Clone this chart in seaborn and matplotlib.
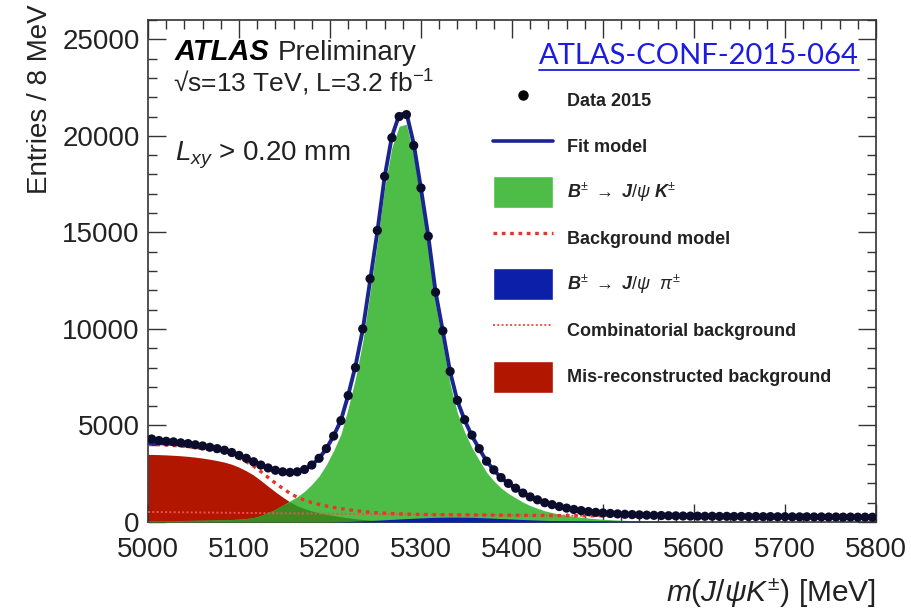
import numpy as np
import pandas as pd
import matplotlib
matplotlib.use("Agg")
import matplotlib.pyplot as plt
from matplotlib.lines import Line2D
from matplotlib.patches import Patch
from matplotlib.ticker import MultipleLocator
import seaborn as sns

# ---- binning: 8 MeV bins between 5000 and 5800 MeV ----
bin_width = 8
mass_lo, mass_hi = 5000, 5800
centers = np.arange(mass_lo + bin_width / 2, mass_hi, bin_width)

# ---- measured entries per bin (Data 2015) ----
data_2015 = [
    4300, 4220, 4180, 4150, 4100, 4060, 4000, 3940, 3870, 3800,
    3720, 3600, 3450, 3300, 3120, 2950, 2800, 2680, 2600, 2570,
    2600, 2720, 2950, 3300, 3800, 4450, 5250, 6550, 8000, 10000,
    12600, 15100, 17900, 19900, 21000, 21100, 19500, 17300, 14800, 11900,
    9900, 7800, 6300, 5300, 4500, 3800, 3150, 2700, 2300, 2000,
    1750, 1500, 1300, 1150, 1000, 900, 800, 720, 650, 590,
    540, 500, 470, 445, 420, 400, 385, 370, 355, 345,
    335, 325, 318, 310, 305, 302, 296, 298, 290, 293,
    285, 288, 280, 284, 276, 279, 271, 274, 268, 266,
    270, 261, 264, 257, 260, 253, 256, 249, 252, 247,
]

# ---- fit components evaluated at the bin centres ----
sig_jpsi_k = [
    70, 72, 74, 76, 79, 82, 86, 91, 97, 105,
    116, 130, 150, 180, 225, 340, 490, 660, 880, 1090,
    1310, 1590, 1950, 2380, 2970, 3700, 4550, 5900, 7450, 9350,
    11900, 14450, 17300, 19400, 20500, 20600, 19000, 16650, 14200, 11300,
    9250, 7150, 5650, 4650, 3850, 3200, 2580, 2130, 1760, 1480,
    1250, 1030, 850, 710, 580, 490, 410, 345, 290, 245,
    205, 172, 145, 122, 102, 86, 72, 60, 50, 42,
    35, 30, 25, 21, 18, 15, 13, 11, 9, 8,
    7, 6, 5, 4, 4, 3, 3, 3, 2, 2,
    2, 2, 1, 1, 1, 1, 1, 1, 1, 1,
]

mis_reco = [
    3500, 3490, 3475, 3455, 3430, 3400, 3360, 3310, 3250, 3180,
    3100, 2990, 2840, 2650, 2430, 2150, 1850, 1560, 1290, 1040,
    840, 690, 570, 480, 400, 330, 270, 220, 170, 130,
    95, 70, 50, 35, 22, 14, 8, 4, 2, 0,
] + [0] * 60

combinatorial = [
    520, 516, 512, 508, 504, 500, 496, 492, 488, 484,
    480, 476, 472, 469, 465, 461, 458, 454, 450, 447,
    443, 440, 436, 433, 429, 426, 423, 419, 416, 413,
    409, 406, 403, 400, 397, 393, 390, 387, 384, 381,
    378, 375, 372, 369, 366, 363, 360, 357, 354, 352,
    349, 346, 343, 341, 338, 335, 333, 330, 327, 325,
    322, 320, 317, 315, 312, 310, 307, 305, 302, 300,
    297, 295, 293, 290, 288, 286, 283, 281, 279, 277,
    274, 272, 270, 268, 266, 264, 262, 259, 257, 255,
    253, 251, 249, 247, 245, 243, 241, 239, 237, 235,
]

jpsi_pi = [0] * 25 + [
    10, 20, 30, 45, 60,
    75, 95, 115, 135, 155, 175, 195, 212, 228, 240,
    248, 252, 252, 248, 240, 228, 214, 198, 180, 162,
    145, 128, 112, 98, 85, 73, 63, 54, 46, 39,
    33, 28, 24, 20, 17, 14, 12, 10, 8, 7,
    6, 5, 4, 3, 3, 2, 2, 2, 1, 1,
    1, 1, 1, 1, 1,
] + [0] * 15

x_ticks = [5000, 5100, 5200, 5300, 5400, 5500, 5600, 5700, 5800]
y_ticks = [0, 5000, 10000, 15000, 20000, 25000]

# ---- model sums ----
sig = np.array(sig_jpsi_k, float)
mis = np.array(mis_reco, float)
comb = np.array(combinatorial, float)
pi = np.array(jpsi_pi, float)
bkg_model = mis + comb
fit_model = sig + mis + comb + pi

df = pd.DataFrame({"mass": centers, "entries": data_2015})

# curves continue flat to the histogram edges
xe = np.r_[mass_lo, centers, mass_hi]
def edge(a):
    return np.r_[a[0], a, a[-1]]

# ---- colours ----
c_sig = "#4dbd48"
c_overlap = "#3d8a22"
c_mis = "#b01600"
c_pi = "#0b1fa8"
c_fit = "#1a2590"
c_bkg = "#e8352a"
c_comb = "#f25050"
c_text = "#222222"

sns.set_theme(style="ticks")
plt.rcParams["font.family"] = ["Liberation Sans", "DejaVu Sans"]
plt.rcParams["mathtext.fontset"] = "custom"
plt.rcParams["mathtext.rm"] = "Liberation Sans"
plt.rcParams["mathtext.it"] = "Liberation Sans:italic"
plt.rcParams["mathtext.bf"] = "Liberation Sans:bold"
try:
    plt.rcParams["mathtext.bfit"] = "Liberation Sans:bold:italic"
except KeyError:
    pass

W, H = 911, 611
fig = plt.figure(figsize=(W / 100, H / 100), dpi=100)
ax = fig.add_axes([148 / W, 1 - 522 / H, 728 / W, 502 / H])

# filled components
ax.fill_between(xe, 0, edge(mis), color=c_mis, lw=0, zorder=1)
ax.fill_between(xe, 0, edge(sig), color=c_sig, lw=0, zorder=2)
ax.fill_between(xe, 0, edge(np.minimum(sig, mis)), color=c_overlap, lw=0, zorder=3)
ax.fill_between(xe, 0, edge(pi), color=c_pi, lw=0, zorder=4)

# background curves
ax.plot(xe, edge(comb), color=c_comb, lw=1.4, ls=(0, (1, 1.2)), zorder=5)
ax.plot(xe, edge(bkg_model), color=c_bkg, lw=2.4, ls=(0, (1.1, 1.4)), zorder=6)

# total fit and data
sns.lineplot(x=xe, y=edge(fit_model), color=c_fit, lw=2.8, zorder=7, ax=ax)
sns.scatterplot(data=df, x="mass", y="entries", color="#0c0c2c", s=44,
                edgecolor="none", zorder=8, ax=ax)

ax.set_xlim(mass_lo, mass_hi)
ax.set_ylim(0, 26000)
ax.set_xticks(x_ticks)
ax.set_yticks(y_ticks)
ax.xaxis.set_minor_locator(MultipleLocator(20))
ax.yaxis.set_minor_locator(MultipleLocator(1000))
ax.set_xticklabels([str(v) for v in x_ticks])
ax.set_yticklabels([str(v) for v in y_ticks])
ax.tick_params(which="both", direction="in", top=True, right=True,
               colors="#333333", labelcolor=c_text, labelsize=20, width=1.0)
ax.tick_params(which="major", length=13)
ax.tick_params(which="minor", length=6.5)
ax.tick_params(axis="y", which="major", pad=6)
ax.tick_params(axis="x", which="major", pad=11)
ax.set_xlabel("")
ax.set_ylabel("")
for s in ax.spines.values():
    s.set_linewidth(1.2)
    s.set_color("#333333")

# axis titles
fig.text(40 / W, 1 - 4 / H, "Entries / 8 MeV", rotation=90, ha="center",
         va="top", fontsize=20, color=c_text)
fig.text(876 / W, 1 - 593 / H, r"$m(J/\psi K^{\pm})$ [MeV]", ha="right",
         va="center", fontsize=21.5, color=c_text)

# labels inside the frame
t_atlas = ax.text(0.037, 0.92, "ATLAS", transform=ax.transAxes, fontsize=21,
                  fontweight="bold", fontstyle="italic", color="black")
ax.text(0.035, 0.857, "\u221as=13 TeV, L=3.2 fb$^{-1}$", transform=ax.transAxes,
        fontsize=19, color=c_text)
ax.text(0.037, 0.72, r"$L_{xy}$ > 0.20 mm", transform=ax.transAxes,
        fontsize=20, color=c_text)
t_conf = ax.text(0.537, 0.912, "ATLAS-CONF-2015-064", transform=ax.transAxes,
                 fontsize=21, color="#1c1ce0", family=["Lato", "DejaVu Sans"])

# legend
handles = [
    Line2D([], [], marker="o", ls="none", color="black", ms=6.5),
    Line2D([], [], color=c_fit, lw=2.6),
    Patch(facecolor=c_sig),
    Line2D([], [], color=c_bkg, lw=2.4, ls=(0, (1.1, 1.4))),
    Patch(facecolor=c_pi),
    Line2D([], [], color=c_comb, lw=1.4, ls=(0, (1, 1.2))),
    Patch(facecolor=c_mis),
]
labels = [
    "Data 2015",
    "Fit model",
    r"$\mathbfit{B}^{\pm}\ \rightarrow\ \mathbfit{J}/\psi\ \mathbfit{K}^{\pm}$",
    "Background model",
    r"$\mathbfit{B}^{\pm}\ \rightarrow\ \mathbfit{J}/\psi\ \ \pi^{\pm}$",
    "Combinatorial background",
    "Mis-reconstructed background",
]
leg = ax.legend(handles, labels, loc="upper left", bbox_to_anchor=(0.474, 0.8725),
                frameon=False, prop={"weight": "bold", "size": 13},
                handlelength=3.32, handleheight=2.35, labelspacing=0.78,
                handletextpad=0.78, borderpad=0, borderaxespad=0)
for t in leg.get_texts():
    t.set_color(c_text)

# "Preliminary" after the ATLAS tag, underline under the conference note id
fig.canvas.draw()
r = fig.canvas.get_renderer()
bb = t_atlas.get_window_extent(r)
x_after = ax.transAxes.inverted().transform((bb.x1 + 8, bb.y0))[0]
ax.text(x_after, 0.92, "Preliminary", transform=ax.transAxes, fontsize=20,
        color=c_text)
cb = t_conf.get_window_extent(r)
inv = fig.transFigure.inverted()
(u0, uy), (u1, _) = inv.transform([(cb.x0, cb.y0 - 1), (cb.x1, cb.y0 - 1)])
fig.add_artist(Line2D([u0, u1], [uy, uy], color="#1c1ce0", lw=1.3,
                      transform=fig.transFigure))

fig.savefig("out.png", dpi=100)
